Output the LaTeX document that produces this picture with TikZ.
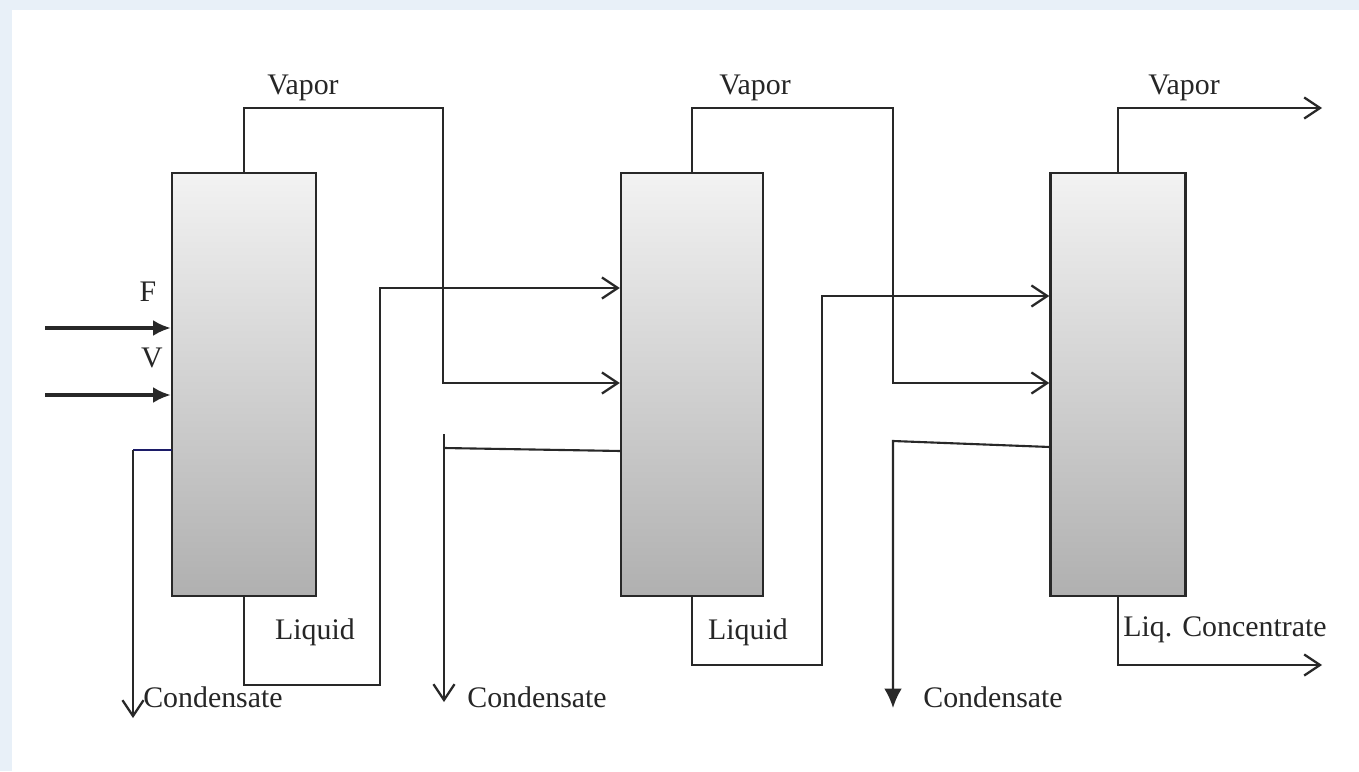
\documentclass[tikz,border=0pt]{standalone}
\usepackage{fontspec}
\setmainfont{Liberation Serif}
\usetikzlibrary{arrows.meta}

\definecolor{framecol}{RGB}{232,240,248}
\definecolor{linecol}{RGB}{40,40,40}

\begin{document}
\begin{tikzpicture}[x=0.02cm,y=-0.02cm,
  evap/.style={draw=linecol, line width=1.4pt, top color=gray!10, bottom color=gray!62,
    minimum width=#1, minimum height=8.46cm, inner sep=0pt},
  flow/.style={draw=linecol, line width=1.2pt},
  openarrow/.style={flow, -{Straight Barb[length=9pt,width=12pt,line width=1.3pt]}},
  fullarrow/.style={flow, -{Latex[length=10pt,width=9pt]}},
  lbl/.style={font=\fontsize{17}{20}\selectfont, inner sep=0pt, text=black!85}]

% Background with light frame on the left and top
\fill[framecol] (0,0) rectangle (1359,771);
\fill[white] (12,10) rectangle (1359,771);
\useasboundingbox (0,0) rectangle (1359,771);

% Draw the three evaporators
\node[evap=2.88cm] (ev1) at (244,384.5) {};
\node[evap=2.84cm] (ev2) at (692,384.5) {};
\node[evap=2.70cm] (ev3) at (1118,384.5) {};

% Feed and steam into the first effect
\coordinate (fin) at (45,328);
\coordinate (vin) at (45,395);
\draw[fullarrow, line width=1.8pt] (fin) -- (fin -| ev1.west);
\draw[fullarrow, line width=1.8pt] (vin) -- (vin -| ev1.west);
\node[lbl] (flbl) at (148,292) {F};
\node[lbl] (vlbl) at (152,358) {V};

% Vapor lines
\coordinate (v1a) at (244,108);
\coordinate (v1b) at (443,108);
\coordinate (v1c) at (443,383);
\draw[openarrow] (ev1.north) -- (v1a) -- (v1b) -- (v1c) -- (v1c -| ev2.west);
\node[lbl] (vap1) at (303,88) {Vapor};

\coordinate (v2a) at (692,108);
\coordinate (v2b) at (893,108);
\coordinate (v2c) at (893,383);
\draw[openarrow] (ev2.north) -- (v2a) -- (v2b) -- (v2c) -- (v2c -| ev3.west);
\node[lbl] (vap2) at (755,88) {Vapor};

\coordinate (v3a) at (1118,108);
\coordinate (v3b) at (1322,108);
\draw[openarrow] (ev3.north) -- (v3a) -- (v3b);
\node[lbl] (vap3) at (1184,88) {Vapor};

% Liquid lines
\coordinate (l1a) at (244,685);
\coordinate (l1b) at (380,685);
\coordinate (l1c) at (380,288);
\draw[openarrow] (ev1.south) -- (l1a) -- (l1b) -- (l1c) -- (l1c -| ev2.west);
\node[lbl] (liq1) at (315,632) {Liquid};

\coordinate (l2a) at (692,665);
\coordinate (l2b) at (822,665);
\coordinate (l2c) at (822,296);
\draw[openarrow] (ev2.south) -- (l2a) -- (l2b) -- (l2c) -- (l2c -| ev3.west);
\node[lbl] (liq2) at (748,632) {Liquid};

\coordinate (l3a) at (1118,665);
\coordinate (l3b) at (1322,665);
\draw[openarrow] (ev3.south) -- (l3a) -- (l3b);
\node[lbl] (liq3) at (1225,630) {Liq. Concentrate};

% Condensate lines
\coordinate (c1a) at (172,450);
\coordinate (c1b) at (133,450);
\coordinate (c1c) at (133,718);
\draw[flow, draw=linecol!70!blue] (c1a) -- (c1b);
\draw[openarrow] (c1b) -- (c1c);
\node[lbl] (cond1) at (213,697) {Condensate};

\coordinate (c2a) at (621,451);
\coordinate (c2b) at (444,448);
\coordinate (c2t) at (444,434);
\coordinate (c2c) at (444,702);
\draw[flow] (c2a) -- (c2b);
\draw[openarrow] (c2t) -- (c2c);
\node[lbl] (cond2) at (537,697) {Condensate};

\coordinate (c3a) at (1050,447);
\coordinate (c3b) at (893,441);
\coordinate (c3c) at (893,708);
\draw[fullarrow, -{Latex[length=11pt,width=10pt]}] (c3a) -- (c3b) -- (c3c);
\node[lbl] (cond3) at (993,697) {Condensate};

\end{tikzpicture}
\end{document}
